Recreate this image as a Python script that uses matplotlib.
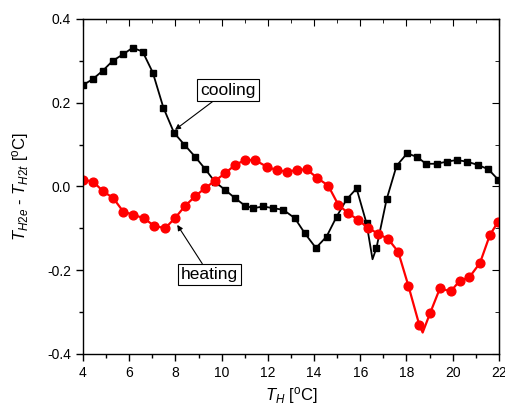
import numpy as np
import matplotlib
matplotlib.use('Agg')
import matplotlib.pyplot as plt
from matplotlib.ticker import MultipleLocator

plt.rcParams['font.family'] = ['Liberation Sans', 'DejaVu Sans']
plt.rcParams['mathtext.fontset'] = 'custom'
plt.rcParams['mathtext.rm'] = 'Liberation Sans'
plt.rcParams['mathtext.it'] = 'Liberation Sans:italic'

# cooling run (black squares)
cool_x = [4.0, 4.42, 4.85, 5.29, 5.72, 6.15, 6.58, 7.02, 7.48, 7.94, 8.38, 8.85,
          9.28, 9.71, 10.14, 10.58, 11.01, 11.37, 11.8, 12.23, 12.67, 13.17, 13.6,
          14.08, 14.54, 14.98, 15.41, 15.84, 16.27, 16.53, 16.7, 17.14, 17.57,
          18.03, 18.47, 18.84, 19.3, 19.74, 20.17, 20.63, 21.1, 21.54, 21.97]
cool_y = [0.242, 0.256, 0.276, 0.300, 0.315, 0.331, 0.322, 0.272, 0.188, 0.128,
          0.100, 0.071, 0.042, 0.011, -0.008, -0.028, -0.046, -0.052, -0.048,
          -0.052, -0.056, -0.076, -0.112, -0.147, -0.120, -0.072, -0.031, -0.005,
          -0.088, -0.174, -0.147, -0.031, 0.049, 0.079, 0.070, 0.054, 0.054,
          0.059, 0.063, 0.059, 0.051, 0.041, 0.016]

# heating run (red circles)
heat_x = [4.01, 4.44, 4.88, 5.31, 5.74, 6.18, 6.64, 7.07, 7.55, 7.98, 8.41, 8.85,
          9.28, 9.71, 10.14, 10.58, 11.01, 11.44, 11.95, 12.38, 12.81, 13.25,
          13.68, 14.14, 14.61, 15.05, 15.48, 15.91, 16.35, 16.78, 17.21, 17.64,
          18.08, 18.55, 18.7, 19.02, 19.45, 19.91, 20.31, 20.72, 21.18, 21.61,
          21.97]
heat_y = [0.016, 0.011, -0.012, -0.028, -0.060, -0.068, -0.076, -0.094, -0.100,
          -0.076, -0.047, -0.024, -0.004, 0.013, 0.031, 0.051, 0.063, 0.063,
          0.047, 0.039, 0.035, 0.039, 0.041, 0.020, 0.002, -0.044, -0.064, -0.080,
          -0.100, -0.113, -0.126, -0.156, -0.237, -0.330, -0.349, -0.303, -0.243,
          -0.251, -0.225, -0.217, -0.183, -0.116, -0.084]

# line-only turning points (no marker drawn there)
cool_skip = [ 29 ]
heat_skip = [ 34 ]

fig = plt.figure( figsize = ( 5.06, 4.11 ), dpi = 100 )
ax = fig.add_axes( [ 0.164, 0.139, 0.822, 0.815 ] )

cool_marks = [ i for i in range( len( cool_x ) ) if i not in cool_skip ]
heat_marks = [ i for i in range( len( heat_x ) ) if i not in heat_skip ]
ax.plot( cool_x, cool_y, color = 'black', lw = 1.3, marker = 's', ms = 5, markevery = cool_marks )
ax.plot( heat_x, heat_y, color = 'red', lw = 1.6, marker = 'o', ms = 6.3, markevery = heat_marks )

ax.set_xlim( 4, 22 )
ax.set_ylim( -0.4, 0.4 )
ax.xaxis.set_major_locator( MultipleLocator( 2 ) )
ax.xaxis.set_minor_locator( MultipleLocator( 1 ) )
ax.yaxis.set_major_locator( MultipleLocator( 0.2 ) )
ax.yaxis.set_minor_locator( MultipleLocator( 0.1 ) )
ax.yaxis.set_major_formatter( matplotlib.ticker.FormatStrFormatter( '%.1f' ) )
ax.tick_params( which = 'both', direction = 'out', labelsize = 10, width = 1 )
ax.tick_params( which = 'major', length = 5 )
ax.tick_params( which = 'minor', length = 3 )
ax2 = ax.secondary_xaxis( 'top' )
ax2.xaxis.set_major_locator( MultipleLocator( 2 ) )
ax2.xaxis.set_minor_locator( MultipleLocator( 1 ) )
ax2.tick_params( which = 'both', direction = 'in', labeltop = False )
ax2.tick_params( which = 'major', length = 5 )
ax2.tick_params( which = 'minor', length = 3 )
ay2 = ax.secondary_yaxis( 'right' )
ay2.yaxis.set_major_locator( MultipleLocator( 0.2 ) )
ay2.yaxis.set_minor_locator( MultipleLocator( 0.1 ) )
ay2.tick_params( which = 'both', direction = 'in', labelright = False )
ay2.tick_params( which = 'major', length = 5 )
ay2.tick_params( which = 'minor', length = 3 )
for s in ax.spines.values():
    s.set_linewidth( 1 )

ax.set_xlabel( r'$T_H$ [$^{\rm o}$C]', fontsize = 12, labelpad = 4 )
ax.set_ylabel( r'$T_{H2e}$ - $T_{H2t}$ [$^{\rm o}$C]', fontsize = 12, labelpad = 12 )

bbox = dict( boxstyle = 'square,pad=0.18', fc = 'white', ec = 'black', lw = 0.8 )
arrow = dict( arrowstyle = '-|>', mutation_scale = 8, color = 'black', lw = 0.8, shrinkA = 0, shrinkB = 0 )
ax.annotate( 'cooling', xy = ( 7.98, 0.135 ), xytext = ( 10.27, 0.23 ),
             ha = 'center', va = 'center', fontsize = 12.5, bbox = bbox, arrowprops = arrow )
ax.annotate( 'heating', xy = ( 8.08, -0.092 ), xytext = ( 9.47, -0.211 ),
             ha = 'center', va = 'center', fontsize = 12.5, bbox = bbox, arrowprops = arrow )

plt.savefig( 'out.png', dpi = 100 )
